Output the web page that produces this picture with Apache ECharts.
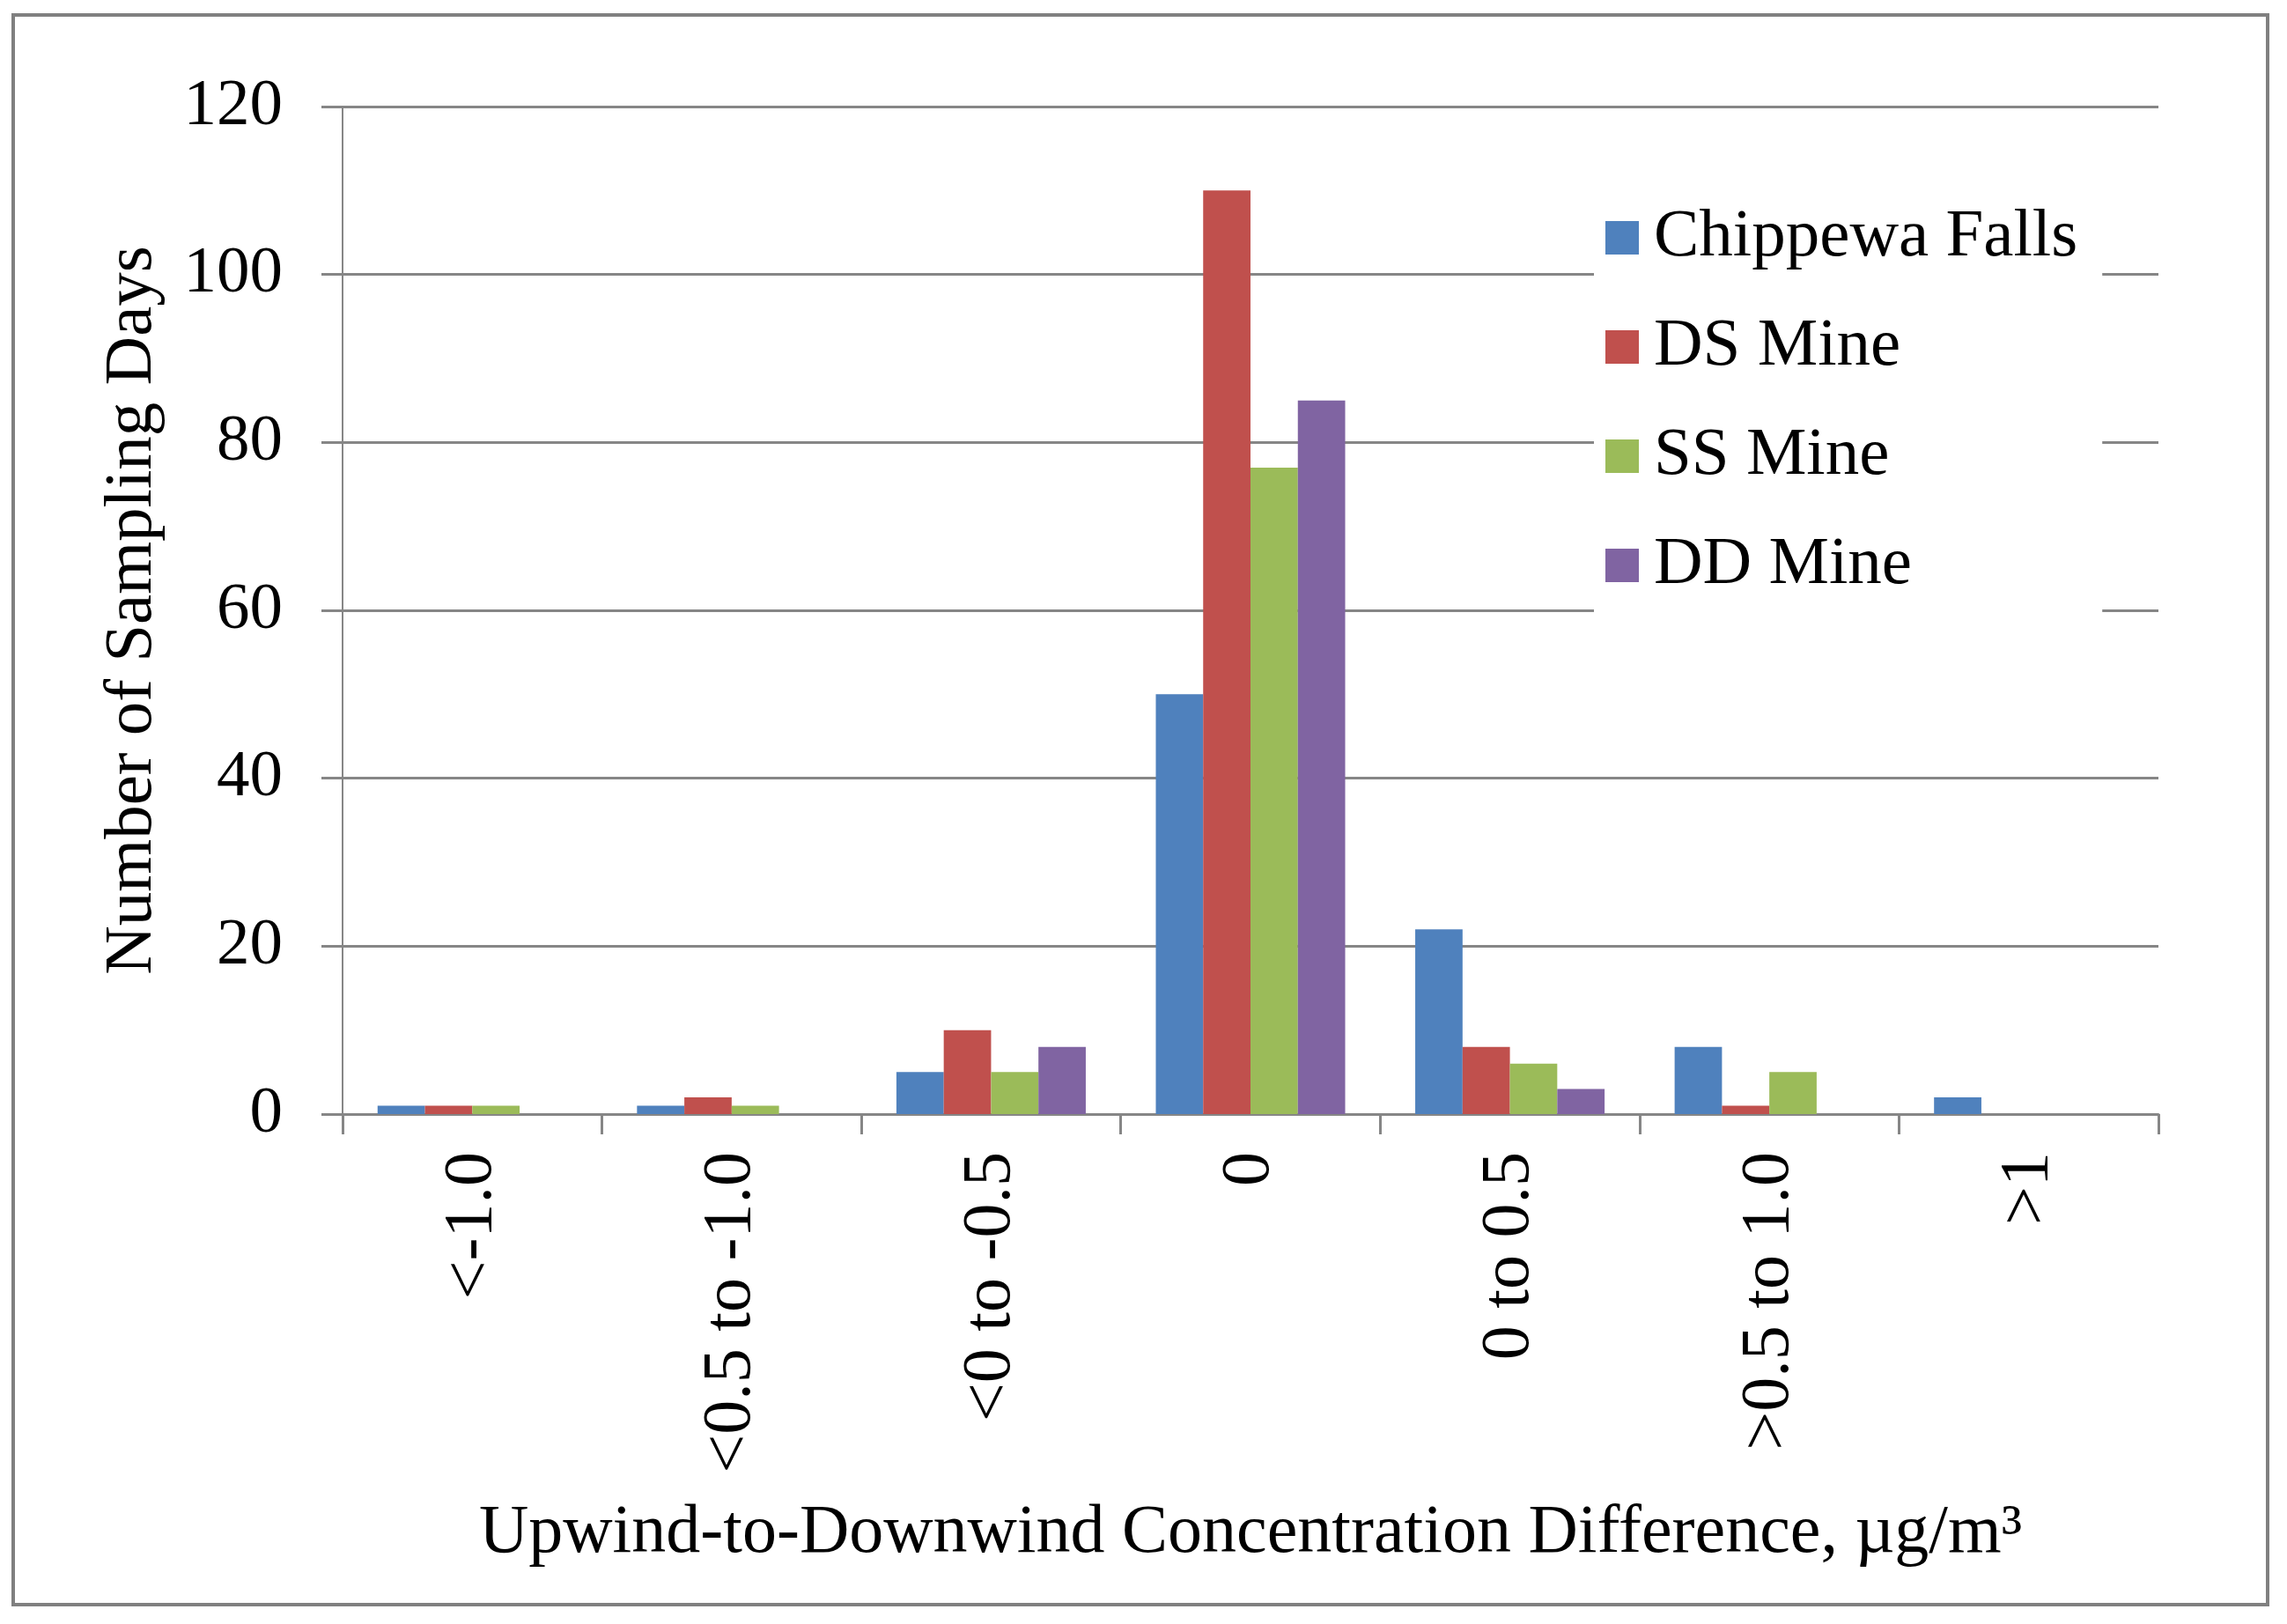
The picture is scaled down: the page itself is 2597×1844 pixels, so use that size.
<!DOCTYPE html>
<html>
<head>
<meta charset="utf-8">
<script src="https://cdn.jsdelivr.net/npm/echarts@6/dist/echarts.min.js"></script>
<style>
html,body{margin:0;padding:0;background:#fff;}
#chart{width:2597px;height:1844px;}
</style>
</head>
<body>
<div id="chart"></div>
<script>
const categories = ['<-1.0', '<0.5 to -1.0', '<0 to -0.5', '0', '0 to 0.5', '>0.5 to 1.0', '>1'];
const chippewaFalls = [1, 1, 5, 50, 22, 8, 2];
const dsMine = [1, 2, 10, 110, 8, 1, '-'];
const ssMine = [1, 1, 5, 77, 6, 5, '-'];
const ddMine = ['-', '-', 8, 85, 3, '-', '-'];
const seriesNames = ['Chippewa Falls', 'DS Mine', 'SS Mine', 'DD Mine'];
const yTicks = {min: 0, max: 120, interval: 20};

const colors = ['#4F81BD', '#C0504D', '#9BBB59', '#8064A2'];
const FONT = '"Liberation Serif", "Times New Roman", serif';
const chart = echarts.init(document.getElementById('chart'));
const seriesData = [chippewaFalls, dsMine, ssMine, ddMine];

chart.setOption({
  animation: false,
  backgroundColor: '#ffffff',
  color: colors,
  textStyle: {fontFamily: FONT},
  graphic: [{
    type: 'rect', z: -10,
    shape: {x: 15, y: 17, width: 2560, height: 1805},
    style: {fill: 'none', stroke: '#808080', lineWidth: 4}
  }],
  grid: {left: 389, right: 146, top: 121, bottom: 579},
  legend: {
    orient: 'vertical',
    left: 1810, top: 210,
    backgroundColor: '#ffffff',
    padding: [20, 28, 25, 13],
    itemWidth: 38, itemHeight: 38,
    itemGap: 44,
    icon: 'rect',
    z: 10,
    textStyle: {fontFamily: FONT, fontSize: 77, color: '#000', lineHeight: 80, padding: [0, 0, 0, 12]},
    data: seriesNames
  },
  xAxis: {
    type: 'category',
    data: categories,
    name: 'Upwind-to-Downwind Concentration Difference, µg/m³',
    nameLocation: 'middle',
    nameGap: 438,
    nameTextStyle: {fontFamily: FONT, fontSize: 78, color: '#000'},
    axisLine: {lineStyle: {color: '#868686', width: 3}},
    axisTick: {show: true, length: 23, lineStyle: {color: '#868686', width: 3}},
    axisLabel: {rotate: 90, margin: 43, fontFamily: FONT, fontSize: 78, color: '#000', interval: 0}
  },
  yAxis: {
    type: 'value',
    min: yTicks.min, max: yTicks.max, interval: yTicks.interval,
    name: 'Number of Sampling Days',
    nameLocation: 'middle',
    nameGap: 200,
    nameTextStyle: {fontFamily: FONT, fontSize: 77, color: '#000'},
    axisLine: {show: true, lineStyle: {color: '#868686', width: 2}},
    axisTick: {show: true, length: 24, lineStyle: {color: '#868686', width: 3}},
    axisLabel: {margin: 68, fontFamily: FONT, fontSize: 75, color: '#000'},
    splitLine: {lineStyle: {color: '#868686', width: 3}}
  },
  series: seriesNames.map((n, i) => ({
    name: n,
    type: 'bar',
    data: seriesData[i],
    barGap: '0%',
    barCategoryGap: '27%',
    itemStyle: {color: colors[i]}
  }))
});
</script>
</body>
</html>
